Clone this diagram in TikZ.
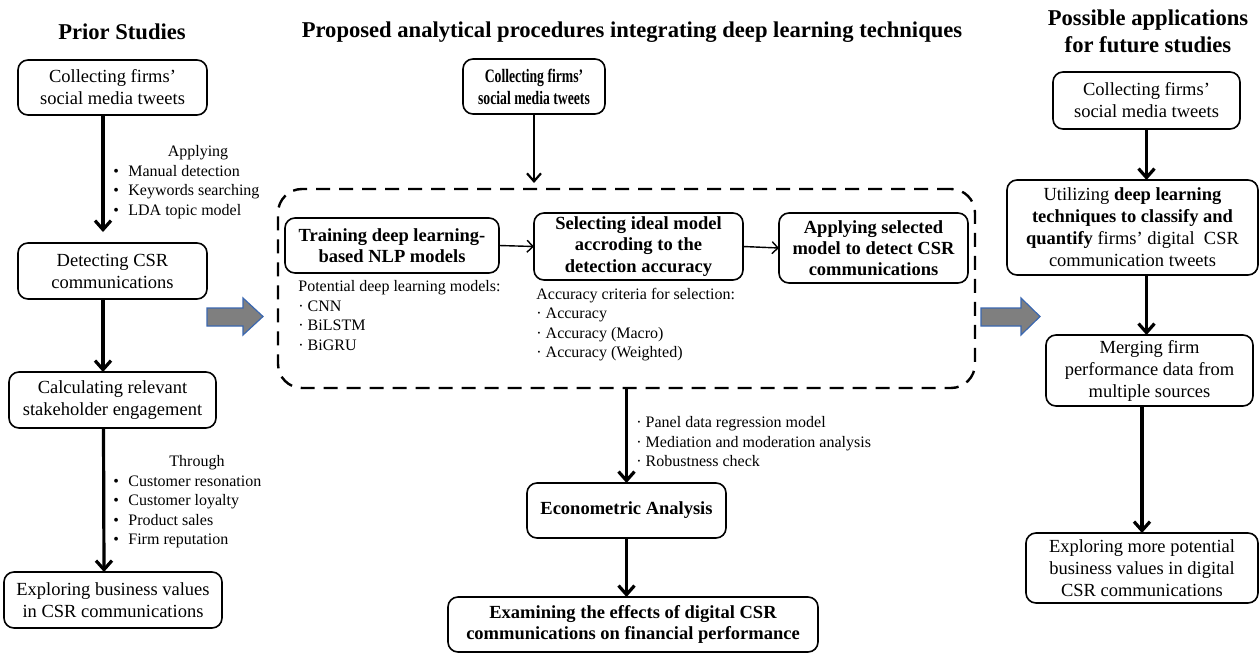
\documentclass[tikz,border=0pt]{standalone}
\usepackage{fontspec}
\setmainfont{Liberation Serif}
\newfontfamily\narrowserif{Liberation Serif}[FakeStretch=0.72]
\usetikzlibrary{arrows.meta}
\definecolor{arrowfill}{HTML}{7F7F7F}
\definecolor{arrowedge}{HTML}{3A67B0}
\newcommand\bull{\makebox[7.5pt][l]{\textbullet}}
\tikzset{
  stagebox/.style={draw, line width=0.8pt, rounded corners=5pt, align=center, inner sep=1pt, outer sep=0pt, font=\fontsize{9.25}{11}\selectfont},
  keybox/.style={stagebox, font=\fontsize{9.25}{10.6}\selectfont\bfseries},
  heading/.style={font=\fontsize{11.3}{13.5}\selectfont\bfseries, align=center, inner sep=0pt},
  note/.style={font=\fontsize{8}{9.75}\selectfont, align=left, inner sep=0pt},
  flow/.style={-{Straight Barb[length=4.5pt,width=8pt]}, line width=1.6pt},
  thinflow/.style={-{Straight Barb[length=4pt,width=7pt]}, line width=1.1pt},
  sideflow/.style={-{Straight Barb[length=3pt,width=6pt]}, line width=0.7pt},
  bigarrow/.style={fill=arrowfill, draw=arrowedge, line width=0.6pt},
  dashframe/.style={draw, line width=1.2pt, dash pattern=on 7pt off 4.5pt, rounded corners=12pt, inner sep=0pt, outer sep=0pt}
}
\begin{document}
\begin{tikzpicture}[x=0.5pt,y=-0.5pt]
\useasboundingbox (0,0) rectangle (1260,653);
\node[heading] (priorhead) at (122,32) {Prior Studies};
\node[heading] (prophead) at (632,32) {Proposed analytical procedures integrating deep learning techniques};
\node[heading] (futurehead) at (1148,31) {Possible applications\\for future studies};

\node[stagebox, minimum width=94.5pt, minimum height=27.5pt] (collect) at (112.5,87.5) {Collecting firms’\\social media tweets};
\node[stagebox, minimum width=94.5pt, minimum height=28pt] (detect) at (112.5,271) {Detecting CSR\\communications};
\node[stagebox, minimum width=103.5pt, minimum height=28pt] (engage) at (112.5,400) {Calculating relevant\\stakeholder engagement};
\node[stagebox, minimum width=109pt, minimum height=28pt] (explore) at (113,600) {Exploring business values\\in CSR communications};
\node[note, align=center] (applying) at (198,153) {Applying};
\node[note, anchor=west] (applylist) at (113,192) {\bull Manual detection\\\bull Keywords searching\\\bull LDA topic model};
\node[note, align=center] (through) at (197,463) {Through};
\node[note, anchor=west] (throughlist) at (113,512) {\bull Customer resonation\\\bull Customer loyalty\\\bull Product sales\\\bull Firm reputation};
\draw[flow, shorten >=5.5pt] ([xshift=-4.75pt]collect.south) -- ([xshift=-4.75pt]detect.north);
\draw[flow] ([xshift=-4.75pt]detect.south) -- ([xshift=-4.75pt]engage.north);
\draw[flow] ([xshift=-4.5pt]engage.south) -- ([xshift=-4.5pt]explore.north);

\node[stagebox, font=\narrowserif\bfseries\fontsize{9.5}{11}\selectfont, minimum width=71pt, minimum height=27.5pt] (source) at (534,86.5) {Collecting firms’\\social media tweets};
\node[dashframe, minimum width=348.5pt, minimum height=99.5pt] (frame) at (626.5,288.5) {};
\node[keybox, minimum width=107pt, minimum height=27.5pt] (train) at (392,245.5) {Training deep learning-\\based NLP models};
\node[keybox, minimum width=104.5pt, minimum height=33.5pt] (select) at (638.5,246.5) {Selecting ideal model\\accroding to the\\detection accuracy};
\node[keybox, minimum width=94.5pt, minimum height=35pt] (apply) at (873.5,248) {Applying selected\\model to detect CSR\\communications};
\node[note, anchor=west] (dlmodels) at (298,315.5) {Potential deep learning models:\\· CNN\\· BiLSTM\\· BiGRU};
\node[note, anchor=west] (criteria) at (536,324.5) {Accuracy criteria for selection:\\· Accuracy\\· Accuracy (Macro)\\· Accuracy (Weighted)};
\node[keybox, minimum width=99.5pt, minimum height=27.5pt] (econ) at (626.5,510.5) {Econometric Analysis};
\node[keybox, minimum width=185pt, minimum height=27.5pt] (effects) at (633,624.5) {Examining the effects of digital CSR\\communications on financial performance};
\node[note, anchor=west] (methods) at (636,442) {· Panel data regression model\\· Mediation and moderation analysis\\· Robustness check};
\draw[thinflow, shorten >=3pt] (source.south) -- (source.south |- frame.north);
\draw[sideflow] (train.east) -- (select.west);
\draw[sideflow] (select.east) -- (apply.west);
\draw[flow] (econ.north |- frame.south) -- (econ.north);
\draw[flow] (econ.south) -- (econ.south |- effects.north);

\node[stagebox, minimum width=93.5pt, minimum height=28.5pt] (rcollect) at (1146.5,100.5) {Collecting firms’\\social media tweets};
\node[stagebox, minimum width=125.5pt, minimum height=47.5pt] (utilize) at (1132.5,227.5) {Utilizing \textbf{deep learning}\\\textbf{techniques to classify and}\\\textbf{quantify} firms’ digital\ \ CSR\\communication tweets};
\node[stagebox, minimum width=103.5pt, minimum height=35.5pt] (merge) at (1149.5,370.5) {Merging firm\\performance data from\\multiple sources};
\node[stagebox, minimum width=116pt, minimum height=35pt] (rexplore) at (1142,568) {Exploring more potential\\business values in digital\\CSR communications};
\draw[flow] (rcollect.south) -- (rcollect.south |- utilize.north);
\draw[flow] (utilize.south -| rcollect.south) -- (merge.north -| rcollect.south);
\draw[flow] (rexplore.north |- merge.south) -- (rexplore.north);

\filldraw[bigarrow] (207,308) -- (243,308) -- (243,298) -- (263,316.5) -- (243,335) -- (243,326) -- (207,326) -- cycle;
\filldraw[bigarrow] (981,308) -- (1021,308) -- (1021,298) -- (1040,316.5) -- (1021,335) -- (1021,326) -- (981,326) -- cycle;
\end{tikzpicture}
\end{document}
